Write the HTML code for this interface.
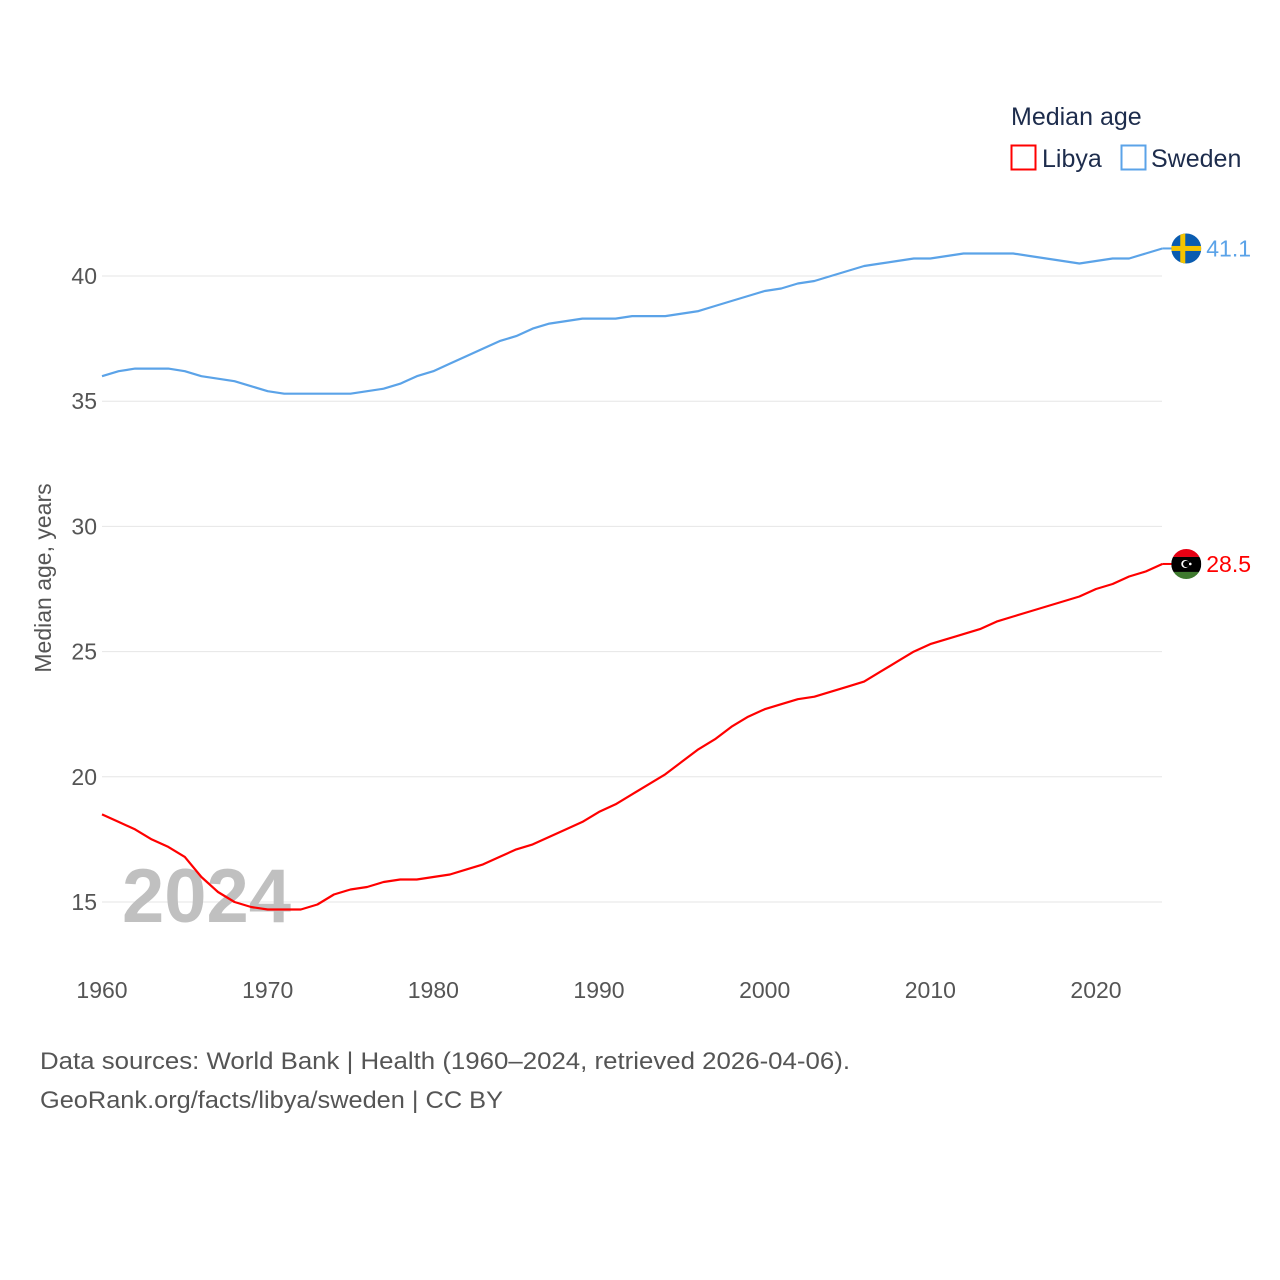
<!DOCTYPE html>
<html><head><meta charset="utf-8"><style>
body{margin:0;background:#fff;}
svg{display:block;font-family:"Liberation Sans",sans-serif;}
</style></head><body>
<svg id="chart" width="1280" height="1280">
<text x="1011" y="125" font-size="25" fill="#1d2c4c">Median age</text>
<g><rect x="1011.5" y="145.5" width="24" height="24" fill="none" stroke="#f00" stroke-width="2"/><text x="1042" y="167" font-size="25" fill="#1d2c4c">Libya</text></g>
<g><rect x="1121.5" y="145.5" width="24" height="24" fill="none" stroke="#5ba3e8" stroke-width="2"/><text x="1151" y="167" font-size="25" fill="#1d2c4c">Sweden</text></g>
<g id="grid"></g>
<text x="122" y="922" font-size="76" font-weight="bold" fill="#c0c0c0">2024</text>
<g id="series"></g>
<text transform="translate(51,578) rotate(-90)" text-anchor="middle" font-size="23" fill="#555">Median age, years</text>
<text x="40" y="1069" font-size="24" fill="#555" textLength="810" lengthAdjust="spacingAndGlyphs">Data sources: World Bank | Health (1960–2024, retrieved 2026-04-06).</text>
<text x="40" y="1108" font-size="24" fill="#555" textLength="463" lengthAdjust="spacingAndGlyphs">GeoRank.org/facts/libya/sweden | CC BY</text>
</svg>
<script>
const years=[];for(let y=1960;y<=2024;y++)years.push(y);
const sweden=[36.0,36.2,36.3,36.3,36.3,36.2,36.0,35.9,35.8,35.6,35.4,35.3,35.3,35.3,35.3,35.3,35.4,35.5,35.7,36.0,36.2,36.5,36.8,37.1,37.4,37.6,37.9,38.1,38.2,38.3,38.3,38.3,38.4,38.4,38.4,38.5,38.6,38.8,39.0,39.2,39.4,39.5,39.7,39.8,40.0,40.2,40.4,40.5,40.6,40.7,40.7,40.8,40.9,40.9,40.9,40.9,40.8,40.7,40.6,40.5,40.6,40.7,40.7,40.9,41.1];
const libya=[18.5,18.2,17.9,17.5,17.2,16.8,16.0,15.4,15.0,14.8,14.7,14.7,14.7,14.9,15.3,15.5,15.6,15.8,15.9,15.9,16.0,16.1,16.3,16.5,16.8,17.1,17.3,17.6,17.9,18.2,18.6,18.9,19.3,19.7,20.1,20.6,21.1,21.5,22.0,22.4,22.7,22.9,23.1,23.2,23.4,23.6,23.8,24.2,24.6,25.0,25.3,25.5,25.7,25.9,26.2,26.4,26.6,26.8,27.0,27.2,27.5,27.7,28.0,28.2,28.5];
const yTicks=[15,20,25,30,35,40];
const xTicks=[1960,1970,1980,1990,2000,2010,2020];
const NS='http://www.w3.org/2000/svg';
const X=y=>102+(y-1960)*994/60;
const Y=v=>902-(v-15)*626/25;
function el(t,a,p){const e=document.createElementNS(NS,t);for(const k in a)e.setAttribute(k,a[k]);p.appendChild(e);return e;}
const grid=document.getElementById('grid'),ser=document.getElementById('series');
yTicks.forEach(v=>{
 const l=el('line',{x1:102,x2:1162,y1:Y(v),y2:Y(v),stroke:'#e6e6e6','stroke-width':1},grid);
 
 
 const t=el('text',{x:97,y:Y(v)+8,'text-anchor':'end','font-size':23,fill:'#555'},grid);t.textContent=v;
 
 
});
xTicks.forEach(v=>{
 const t=el('text',{x:X(v),y:998,'text-anchor':'middle','font-size':23,fill:'#555'},grid);t.textContent=v;
 
 
});
function line(data,color,name){
 const d=data.map((v,i)=>(i?'L':'M')+X(years[i]).toFixed(1)+','+Y(v).toFixed(1)).join('');
 const p=el('path',{d:d,fill:'none',stroke:color,'stroke-width':2.2,'stroke-linejoin':'round'},ser);
 
 
 const lx=X(2024),ly=Y(data[data.length-1]);
 el('line',{x1:lx,x2:lx+12,y1:ly,y2:ly,stroke:color,'stroke-width':2},ser);
 const t=el('text',{x:lx+44,y:ly+8,'font-size':23,fill:color},ser);t.textContent=data[data.length-1].toFixed(1);
 
 
 return [lx+24,ly];
}
const [sx,sy]=line(sweden,'#5ba3e8','sweden');
const [lx,ly]=line(libya,'#f00','libya');
const fs=el('g',{},ser);


const cs=el('clipPath',{id:'cs'},fs);el('circle',{cx:sx,cy:sy,r:15},cs);
const sg=el('g',{'clip-path':'url(#cs)'},fs);
el('rect',{x:sx-15,y:sy-15,width:30,height:30,fill:'#0a5cb0'},sg);
el('rect',{x:sx-15,y:sy-2.5,width:30,height:5,fill:'#f5c400'},sg);
el('rect',{x:sx-6,y:sy-15,width:5,height:30,fill:'#f5c400'},sg);
const fl=el('g',{},ser);


const cl=el('clipPath',{id:'cl'},fl);el('circle',{cx:lx,cy:ly,r:15},cl);
const lg=el('g',{'clip-path':'url(#cl)'},fl);
el('rect',{x:lx-15,y:ly-15,width:30,height:8,fill:'#e70013'},lg);
el('rect',{x:lx-15,y:ly-7,width:30,height:15,fill:'#000'},lg);
el('rect',{x:lx-15,y:ly+8,width:30,height:8,fill:'#3f7a2f'},lg);
el('circle',{cx:lx-1,cy:ly,r:4,fill:'#fff'},lg);
el('circle',{cx:lx,cy:ly,r:3.2,fill:'#000'},lg);
el('circle',{cx:lx+4,cy:ly,r:1.3,fill:'#fff'},lg);
</script>
</body></html>
